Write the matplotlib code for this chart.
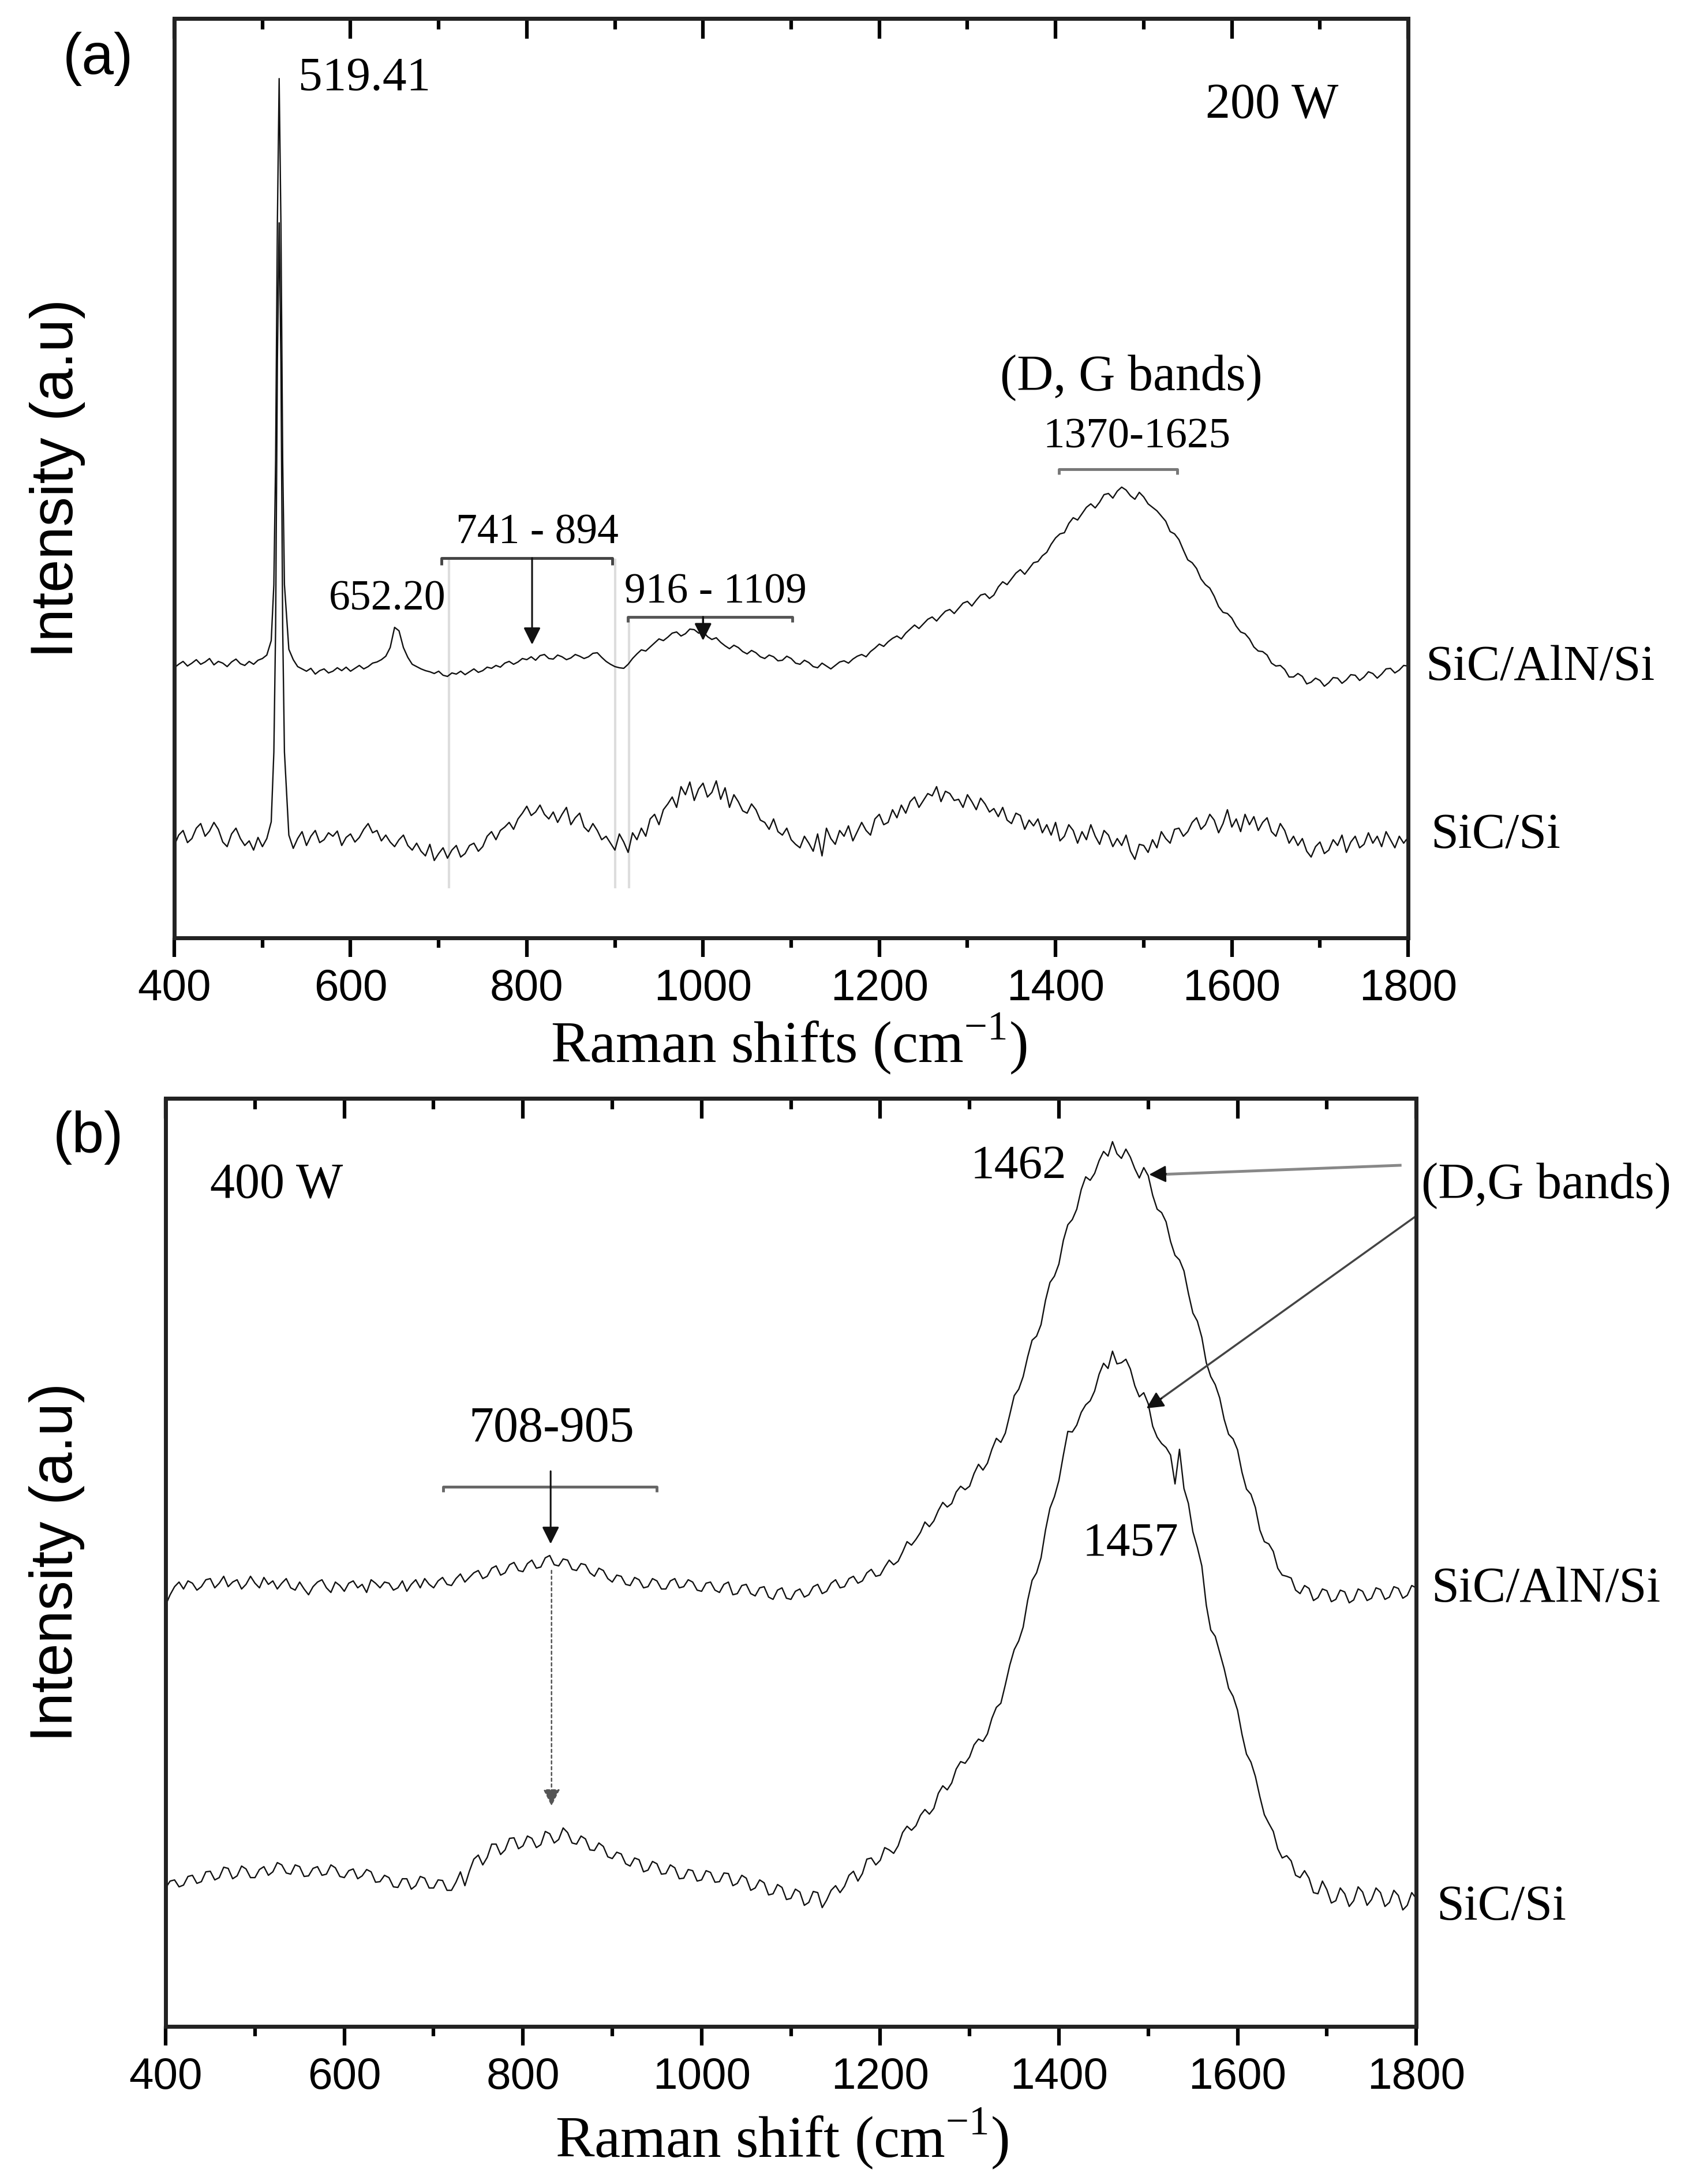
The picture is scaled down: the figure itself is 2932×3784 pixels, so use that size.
import matplotlib
matplotlib.use("Agg")
import matplotlib.pyplot as plt
import numpy as np
from matplotlib.ticker import MultipleLocator

plt.rcParams['font.family'] = ['Liberation Sans', 'DejaVu Sans']
plt.rcParams['mathtext.fontset'] = 'custom'
plt.rcParams['mathtext.rm'] = 'Liberation Serif'

# ---- (a) 200 W ----
# raman shift grid, extra points on the sharp Si line at 519
a_x = np.r_[np.arange(400, 511, 5),
            [513, 515, 517, 519, 521, 523, 525],
            np.arange(530, 1801, 5)]

a_aln = [468, 474, 479, 471, 476, 482, 474, 478, 484, 473,
         479, 476, 470, 478, 483, 475, 472, 479, 474, 481,
         484, 490, 515,
         612, 829, 1239, 1489, 1239, 829, 612,
         500, 482, 470, 466, 462, 467, 457, 463, 466, 459,
         462, 468, 463, 469, 462, 467, 472, 466, 470, 476,
         478, 482, 488, 503, 538, 532, 503, 486, 474, 470,
         466, 463, 461, 458, 462, 455, 453, 459, 457, 462,
         456, 461, 466, 460, 463, 469, 467, 472, 469, 476,
         479, 474, 478, 484, 482, 487, 481, 489, 491, 484,
         483, 490, 487, 482, 485, 491, 488, 484, 487, 493,
         494, 486, 479, 474, 470, 468, 467, 474, 484, 492,
         499, 497, 504, 511, 518, 515, 521, 528, 530, 523,
         527, 535, 534, 528, 531, 522, 517, 520, 512, 506,
         501, 507, 503, 496, 492, 498, 494, 487, 484, 490,
         487, 480, 481, 488, 484, 476, 474, 481, 477, 470,
         468, 476, 471, 466, 472, 478, 480, 476, 483, 488,
         491, 487, 496, 502, 509, 505, 513, 519, 523, 518,
         528, 535, 542, 536, 544, 552, 556, 549, 558, 566,
         569, 562, 571, 580, 583, 575, 585, 594, 596, 588,
         594, 608, 617, 612, 622, 632, 638, 630, 640, 650,
         652, 662, 668, 682, 693, 700, 702, 718, 728, 724,
         735, 746, 752, 745, 755, 768, 770, 762, 774, 781,
         776, 766, 760, 772, 764, 752, 746, 740, 731, 722,
         704, 700, 690, 672, 655, 650, 640, 622, 612, 606,
         592, 574, 564, 562, 554, 540, 530, 527, 518, 504,
         497, 496, 490, 476, 471, 472, 465, 452, 452, 458,
         453, 440, 443, 450, 446, 436, 442, 451, 450, 441,
         447, 456, 455, 446, 452, 461, 458, 450, 457, 466,
         467, 459, 464, 472, 471]

a_si = [160, 178, 186, 165, 172, 190, 198, 176, 185, 200,
        188, 166, 158, 180, 190, 172, 160, 168, 152, 174,
        158, 172, 201,
        322, 539, 998, 1239, 998, 539, 322,
        178, 155, 172, 184, 160, 176, 186, 165, 170, 182,
        176, 185, 160, 174, 180, 166, 174, 188, 198, 182,
        186, 168, 178, 166, 158, 170, 178, 160, 152, 164,
        150, 142, 162, 134, 146, 156, 138, 152, 160, 140,
        146, 160, 164, 150, 158, 176, 184, 170, 186, 192,
        200, 188, 206, 216, 228, 212, 218, 230, 214, 206,
        218, 200, 214, 226, 196, 208, 216, 192, 184, 198,
        186, 170, 176, 164, 152, 180, 166, 148, 182, 170,
        190, 176, 206, 214, 196, 222, 232, 244, 226, 262,
        248, 270, 238, 258, 268, 244, 252, 272, 240, 260,
        226, 248, 236, 220, 216, 232, 222, 204, 200, 188,
        206, 184, 178, 190, 170, 162, 156, 176, 164, 150,
        180, 142, 190, 172, 162, 186, 176, 194, 168, 184,
        200, 186, 178, 206, 214, 196, 200, 222, 208, 230,
        216, 236, 244, 226, 238, 250, 246, 262, 236, 254,
        250, 238, 240, 226, 248, 236, 222, 242, 232, 218,
        224, 210, 226, 204, 198, 216, 212, 188, 204, 194,
        206, 182, 196, 178, 200, 168, 176, 196, 186, 164,
        184, 170, 196, 176, 162, 186, 178, 158, 172, 160,
        178, 150, 136, 162, 160, 148, 170, 156, 184, 172,
        164, 188, 190, 176, 184, 200, 208, 188, 196, 214,
        204, 182, 198, 222, 192, 206, 184, 214, 196, 210,
        186, 200, 208, 184, 176, 198, 186, 164, 176, 160,
        172, 150, 140, 158, 166, 146, 152, 170, 160, 178,
        148, 166, 176, 156, 162, 182, 164, 176, 158, 184,
        170, 156, 176, 164, 174]

# ---- (b) 400 W ----
b_x = np.arange(400, 1801, 5)

b_aln = [730, 748, 762, 770, 758, 772, 768, 756, 762, 774,
         776, 760, 768, 780, 762, 770, 774, 758, 766, 780,
         768, 760, 778, 766, 772, 758, 768, 776, 760, 756,
         770, 758, 748, 762, 770, 774, 760, 752, 770, 764,
         754, 768, 772, 760, 766, 752, 774, 768, 760, 770,
         768, 756, 760, 772, 754, 766, 774, 760, 776, 766,
         760, 772, 778, 766, 764, 776, 784, 770, 778, 786,
         790, 776, 780, 794, 798, 782, 786, 800, 804, 790,
         788, 802, 808, 794, 796, 812, 816, 800, 798, 810,
         808, 792, 790, 802, 800, 786, 780, 794, 790, 776,
         770, 782, 780, 766, 764, 778, 774, 760, 762, 776,
         772, 758, 758, 772, 776, 760, 762, 774, 770, 756,
         754, 768, 770, 756, 752, 766, 770, 748, 750, 764,
         766, 750, 746, 760, 762, 744, 740, 756, 760, 742,
         740, 754, 758, 744, 748, 762, 766, 750, 754, 768,
         774, 760, 762, 776, 780, 768, 772, 786, 792, 780,
         782, 796, 808, 800, 806, 822, 840, 834, 844, 856,
         874, 866, 876, 894, 908, 900, 906, 926, 936, 930,
         936, 958, 974, 964, 976, 1000, 1019, 1012, 1028, 1060,
         1093, 1104, 1126, 1160, 1189, 1196, 1216, 1258, 1289, 1300,
         1321, 1362, 1389, 1398, 1416, 1450, 1472, 1466, 1478, 1500,
         1516, 1508, 1533, 1512, 1504, 1520, 1506, 1486, 1470, 1488,
         1474, 1440, 1416, 1410, 1394, 1360, 1336, 1328, 1309, 1270,
         1236, 1222, 1194, 1150, 1126, 1112, 1089, 1052, 1026, 1018,
         999, 960, 931, 922, 899, 860, 840, 836, 823, 794,
         782, 780, 777, 756, 750, 764, 759, 738, 743, 758,
         755, 736, 740, 756, 753, 734, 739, 758, 754, 738,
         742, 760, 757, 740, 744, 762, 759, 742, 747, 764,
         760]

b_si = [240, 252, 254, 242, 245, 260, 262, 248, 251, 268,
        269, 254, 258, 276, 274, 256, 261, 278, 273, 258,
        258, 272, 277, 262, 268, 284, 280, 266, 264, 280,
        277, 260, 261, 274, 277, 262, 264, 280, 275, 260,
        258, 270, 273, 256, 261, 272, 268, 250, 251, 262,
        258, 242, 241, 256, 256, 238, 244, 260, 257, 240,
        240, 254, 253, 236, 236, 250, 268, 244, 269, 290,
        297, 280, 293, 316, 316, 298, 306, 326, 327, 308,
        313, 330, 326, 310, 315, 338, 334, 318, 324, 344,
        336, 318, 316, 330, 325, 306, 305, 318, 312, 294,
        291, 302, 299, 282, 278, 292, 289, 268, 271, 286,
        282, 264, 265, 280, 275, 256, 257, 272, 270, 252,
        254, 270, 267, 250, 251, 266, 265, 244, 248, 262,
        257, 236, 240, 254, 249, 228, 230, 246, 241, 220,
        222, 238, 233, 210, 215, 234, 232, 206, 219, 236,
        244, 232, 243, 262, 269, 252, 265, 290, 292, 280,
        288, 310, 306, 300, 313, 336, 347, 340, 348, 366,
        376, 368, 378, 404, 417, 410, 422, 446, 459, 456,
        467, 488, 498, 494, 507, 534, 553, 560, 592, 626,
        653, 668, 692, 738, 773, 786, 812, 860, 898, 918,
        946, 990, 1031, 1030, 1042, 1064, 1077, 1084, 1101, 1130,
        1149, 1140, 1170, 1148, 1150, 1156, 1139, 1110, 1091, 1098,
        1079, 1040, 1021, 1010, 1003, 990, 940, 1000, 932, 906,
        857, 830, 798, 730, 687, 676, 648, 620, 586, 572,
        548, 506, 472, 458, 433, 398, 367, 352, 338, 308,
        292, 296, 287, 262, 258, 270, 257, 232, 230, 252,
        237, 214, 218, 240, 230, 208, 218, 242, 233, 210,
        220, 240, 232, 208, 215, 236, 227, 202, 210, 232,
        222]

serif = 'Liberation Serif'
ink = '#111111'

fig = plt.figure(figsize=(29.32, 37.84), dpi=100)
ax1 = fig.add_axes([0.1030, 0.5706, 0.7292, 0.4209])
ax2 = fig.add_axes([0.0979, 0.0721, 0.7391, 0.4250])


def frame(ax, ymax):
    ax.set_xlim(400, 1800)
    ax.set_ylim(0, ymax)
    ax.xaxis.set_major_locator(MultipleLocator(200))
    ax.xaxis.set_minor_locator(MultipleLocator(100))
    ax.tick_params(axis='x', which='major', direction='out', length=24,
                   width=4.5, pad=14, labelsize=55, top=False)
    ax.tick_params(axis='x', which='minor', direction='out', length=12,
                   width=4.5, top=False)
    ax.tick_params(axis='y', left=False, labelleft=False)
    for s in ax.spines.values():
        s.set_linewidth(5)
        s.set_color('#222222')
    top = ax.secondary_xaxis('top')
    top.xaxis.set_major_locator(MultipleLocator(200))
    top.xaxis.set_minor_locator(MultipleLocator(100))
    top.tick_params(which='major', direction='in', length=25, width=4.5,
                    labeltop=False)
    top.tick_params(which='minor', direction='in', length=14, width=4.5)
    top.spines['top'].set_linewidth(5)


def bracket(ax, x1, x2, y, cap, color='#555555'):
    ax.plot([x1, x1, x2, x2], [y - cap, y, y, y - cap], color=color, lw=3.5,
            solid_capstyle='butt')


def arrow(ax, start, end, color=ink, lw=2.2, ls='-'):
    ax.annotate('', xy=end, xytext=start,
                arrowprops=dict(arrowstyle='-|>', color=color, lw=lw,
                                linestyle=ls, mutation_scale=45,
                                shrinkA=0, shrinkB=0))


# ---------- panel (a) ----------
frame(ax1, 1593)
ax1.plot(a_x, a_aln, color=ink, lw=1.7)
ax1.plot(a_x, a_si, color=ink, lw=1.7)

for xv, y0 in [(712, 655), (900, 655), (916, 553)]:
    ax1.plot([xv, xv], [88, y0], color='#dddddd', lw=3, zorder=0)

ax1.text(541, 1469, '519.41', family=serif, fontsize=60)
ax1.text(641.5, 568, '652.20', family=serif, fontsize=53, ha='center')
ax1.text(812, 683, '741 - 894', family=serif, fontsize=53, ha='center')
bracket(ax1, 703, 897, 658, 12, '#444444')
arrow(ax1, (806, 658), (806, 508))
ax1.text(1014, 580, '916 - 1109', family=serif, fontsize=53, ha='center')
bracket(ax1, 915, 1101, 556, 9)
arrow(ax1, (1000, 556), (1000, 515), lw=2.5)
ax1.text(1570, 1421, '200 W', family=serif, fontsize=62)
ax1.text(1486, 949, '(D, G bands)', family=serif, fontsize=63, ha='center')
ax1.text(1492, 850, '1370-1625', family=serif, fontsize=54, ha='center')
bracket(ax1, 1404, 1538, 812, 9, '#777777')
ax1.text(1820, 447, 'SiC/AlN/Si', family=serif, fontsize=62)
ax1.text(1826, 156, 'SiC/Si', family=serif, fontsize=62)

ax1.set_xlabel('Raman shifts (cm$^{\\mathregular{-1}}$)', family=serif,
               fontsize=73, va='baseline')
ax1.xaxis.set_label_coords(0.498, -0.136)
ax1.set_ylabel('Intensity (a.u)', fontsize=74, va='center')
ax1.yaxis.set_label_coords(-0.0945, 0.5)

# ---------- panel (b) ----------
frame(ax2, 1608)
ax2.plot(b_x, b_aln, color=ink, lw=1.7)
ax2.plot(b_x, b_si, color=ink, lw=1.7)

ax2.text(450, 1435, '400 W', family=serif, fontsize=62)
ax2.text(832, 1014, '708-905', family=serif, fontsize=62, ha='center')
bracket(ax2, 711, 950, 935, 9, '#666666')
arrow(ax2, (831, 962), (831, 836))
arrow(ax2, (832, 790), (832, 382), color='#555555', lw=1.8, ls=(0, (2, 2)))
ax2.text(1355, 1470, '1462', family=serif, fontsize=60, ha='center')
ax2.text(1480, 816, '1457', family=serif, fontsize=60, ha='center')
ax2.text(1806, 1435, '(D,G bands)', family=serif, fontsize=63)
ax2.plot([1782, 1512], [1492, 1476], color='#888888', lw=3.5)
arrow(ax2, (1520, 1477), (1501, 1476), lw=2)
ax2.plot([1807, 1510], [1412, 1083], color='#444444', lw=2.5)
arrow(ax2, (1515, 1088), (1498, 1071), lw=2)
ax2.text(1817, 736, 'SiC/AlN/Si', family=serif, fontsize=62)
ax2.text(1823, 185, 'SiC/Si', family=serif, fontsize=62)

ax2.set_xlabel('Raman shift (cm$^{\\mathregular{-1}}$)', family=serif,
               fontsize=73, va='baseline')
ax2.xaxis.set_label_coords(0.493, -0.141)
ax2.set_ylabel('Intensity (a.u)', fontsize=74, va='center')
ax2.yaxis.set_label_coords(-0.0872, 0.5)

fig.text(170 / 2932, 1 - 102 / 3784, '(a)', fontsize=72, ha='center', va='center')
fig.text(153 / 2932, 1 - 1971 / 3784, '(b)', fontsize=72, ha='center', va='center')

fig.savefig('out.png', dpi=100)
